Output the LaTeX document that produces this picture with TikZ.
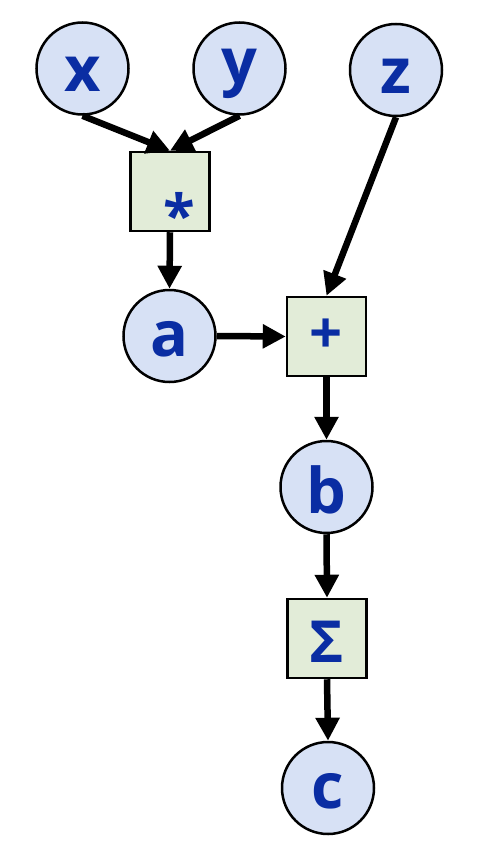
\documentclass[tikz,border=0pt]{standalone}
\usepackage{fontspec}
\setmainfont{Open Sans}
\usetikzlibrary{arrows.meta}
\definecolor{varfill}{HTML}{D7E1F5}
\definecolor{opfill}{HTML}{E2ECD8}
\definecolor{txtblue}{HTML}{0A2DA3}
\newcommand{\lowr}[2]{\raisebox{-#1}[\height][\depth]{#2}}
\tikzset{
  varnode/.style={circle, draw=black, line width=2.5pt, fill=varfill, minimum size=92pt, inner sep=0pt,
    text=txtblue, font=\fontsize{63}{63}\selectfont\bfseries},
  opnode/.style={rectangle, draw=black, line width=2.5pt, fill=opfill, minimum size=79pt, inner sep=0pt,
    text=txtblue, font=\fontsize{58}{58}\selectfont\bfseries},
  lbl/.style={text=txtblue, inner sep=0pt, font=\fontsize{58}{58}\selectfont\bfseries},
  conn/.style={line width=6.5pt, -{Triangle[length=23pt,width=23pt]}}
}
\begin{document}
\begin{tikzpicture}[x=1pt,y=-1pt]
\useasboundingbox (0,0) rectangle (501,846);
\node[varnode] (x) at (82.5,68.5) {\lowr{6pt}{x}};
\node[varnode] (y) at (239.5,68.5) {\lowr{5pt}{y}};
\node[varnode] (z) at (396,70) {\lowr{6pt}{z}};
\node[opnode] (mul) at (170,191.5) {};
\node[lbl] (star) at (179,214) {*};
\node[varnode] (a) at (169.5,336) {\lowr{3pt}{a}};
\node[opnode] (add) at (326.5,336.5) {+};
\node[varnode] (b) at (326.5,487) {\lowr{3pt}{b}};
\node[opnode] (sum) at (327,638.5) {\lowr{3pt}{Σ}};
\node[varnode] (c) at (328,788) {\lowr{3pt}{c}};
\draw[conn] (x.south) -- (mul.north);
\draw[conn] (y.south) -- (mul.north);
\draw[conn] (z.south) -- (add.north);
\draw[conn] (mul.south) -- (a.north);
\draw[conn] (a.east) -- (add.west);
\draw[conn] (add.south) -- (b.north);
\draw[conn] (b.south) -- (sum.north);
\draw[conn] (sum.south) -- (c.north);
\end{tikzpicture}
\end{document}
